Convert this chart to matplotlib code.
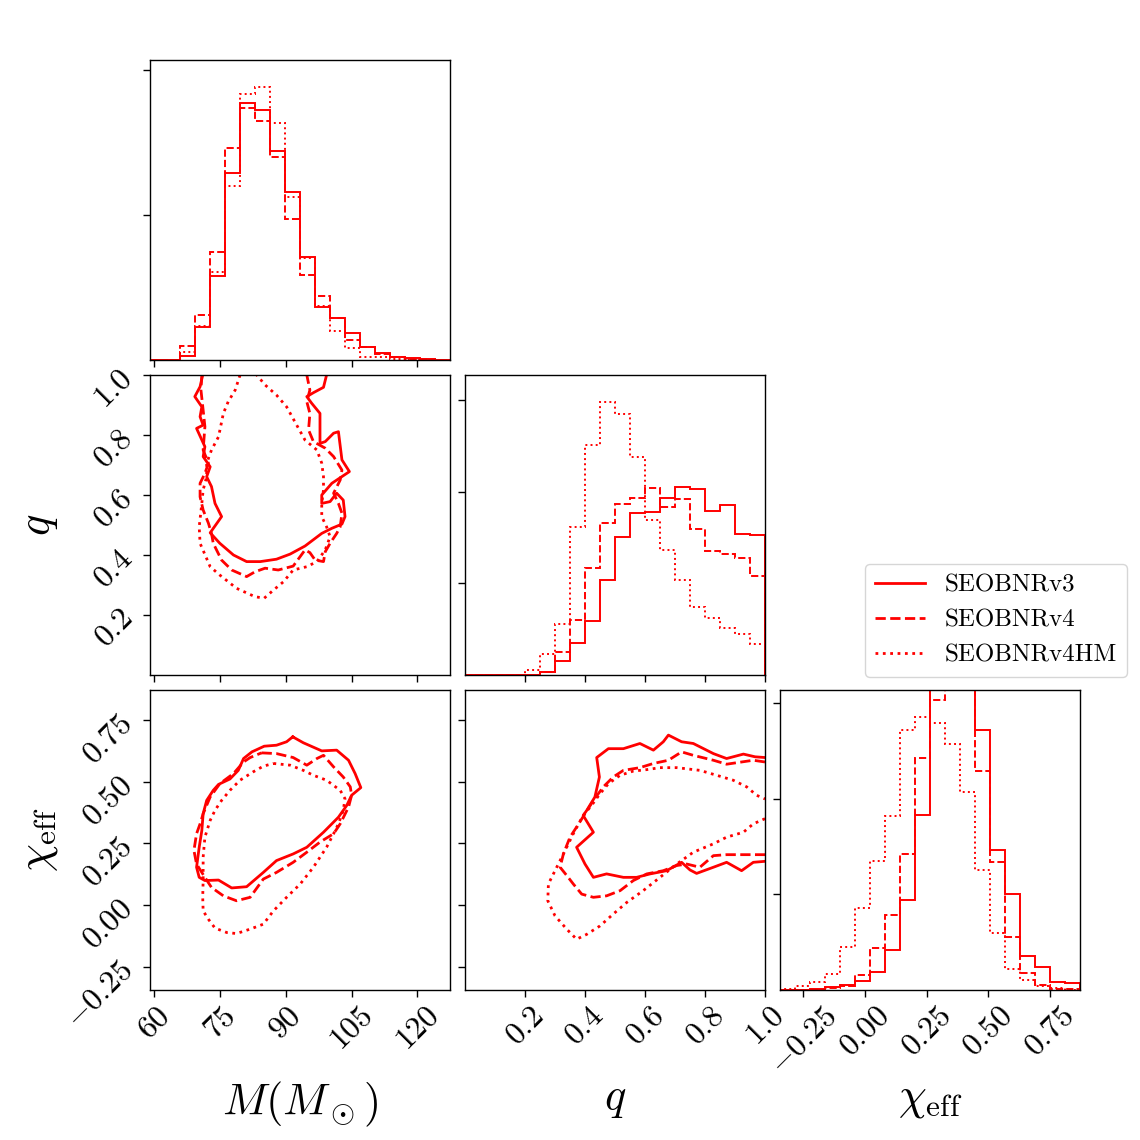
import numpy as np
import matplotlib
matplotlib.use("Agg")
import matplotlib.pyplot as plt
from matplotlib.lines import Line2D

plt.rcParams['mathtext.fontset'] = 'cm'
plt.rcParams['font.family'] = 'serif'
plt.rcParams['font.serif'] = ['cmr10']
plt.rcParams['axes.formatter.use_mathtext'] = True

labels = ['SEOBNRv3', 'SEOBNRv4', 'SEOBNRv4HM']
styles = ['-', '--', ':']
color = 'red'

# axis ranges (20 bins across each range)
M_range = (59.1, 127.4)
q_range = (0.0, 1.0)
chi_range = (-0.345, 0.872)

M_ticks = [60, 75, 90, 105, 120]
q_ticks = [0.2, 0.4, 0.6, 0.8, 1.0]
chi_ticks = [-0.25, 0.0, 0.25, 0.5, 0.75]

# 1D histograms (arbitrary density units)
M_hist_v3 = [0.0, 0.0, 0.028, 0.23, 0.579, 1.292, 1.772, 1.726, 1.444, 1.161,
             0.708, 0.363, 0.290, 0.184, 0.092, 0.051, 0.023, 0.011, 0.009, 0.002]
M_hist_v4 = [0.0, 0.0, 0.099, 0.313, 0.747, 1.460, 1.736, 1.648, 1.398, 0.970,
             0.586, 0.441, 0.290, 0.138, 0.087, 0.041, 0.018, 0.007, 0.005, 0.002]
M_hist_v4hm = [0.0, 0.0, 0.053, 0.237, 0.605, 1.202, 1.834, 1.880, 1.634, 1.122,
               0.703, 0.375, 0.198, 0.080, 0.023, 0.018, 0.007, 0.003, 0.003, 0.002]

q_hist_v3 = [0.0, 0.0, 0.0, 0.0, 0.004, 0.036, 0.156, 0.345, 0.593, 1.04,
             1.502, 1.767, 1.782, 1.935, 2.051, 2.033, 1.793, 1.851, 1.542, 1.524]
q_hist_v4 = [0.0, 0.0, 0.0, 0.0, 0.004, 0.029, 0.255, 0.60, 1.171, 1.655,
             1.865, 1.927, 2.04, 1.829, 1.92, 1.596, 1.353, 1.32, 1.273, 1.084]
q_hist_v4hm = [0.0, 0.0, 0.0, 0.004, 0.055, 0.229, 0.556, 1.611, 2.513, 2.975,
               2.847, 2.382, 1.695, 1.364, 1.036, 0.745, 0.618, 0.513, 0.447, 0.338]

chi_hist_v3 = [0.0, 0.003, 0.01, 0.028, 0.056, 0.091, 0.192, 0.418, 0.944, 1.833,
               3.35, 3.5, 3.4, 2.721, 1.467, 1.003, 0.355, 0.244, 0.087, 0.073]
chi_hist_v4 = [0.0, 0.0, 0.003, 0.02, 0.045, 0.157, 0.436, 0.784, 1.422, 2.425,
               3.03, 3.3, 3.25, 2.293, 1.334, 0.551, 0.181, 0.056, 0.01, 0.01]
chi_hist_v4hm = [0.01, 0.045, 0.087, 0.167, 0.446, 0.854, 1.352, 1.822, 2.718, 2.85,
                 2.787, 2.571, 2.073, 1.254, 0.592, 0.22, 0.105, 0.045, 0.02, 0.003]

# 90% credible contours
Mq_v3_M = [71.1, 70.5, 69.3, 70.9, 70.5, 71.2, 69.7, 71.6, 71.2, 72.8, 72.0, 73.1, 73.9, 75.4,
           72.8, 75.0, 78.1, 81.1, 84.2, 87.9, 91.0, 94.4, 98.2, 100.5, 102.8, 103.5, 103.1,
           101.6, 100.1, 98.2, 98.2, 100.5, 104.5, 102.8, 102.0, 100.9, 99.0, 97.8, 97.8,
           95.9, 94.8, 96.3, 98.6, 99.3]
Mq_v3_q = [1.0, 0.961, 0.928, 0.894, 0.861, 0.833, 0.822, 0.761, 0.728, 0.694, 0.661, 0.628,
           0.572, 0.528, 0.474, 0.439, 0.400, 0.378, 0.378, 0.386, 0.403, 0.430, 0.472, 0.489,
           0.503, 0.528, 0.583, 0.606, 0.578, 0.572, 0.600, 0.639, 0.678, 0.717, 0.811, 0.806,
           0.778, 0.772, 0.872, 0.906, 0.928, 0.941, 0.959, 1.0]

Mq_v4_M = [70.9, 70.7, 71.2, 71.6, 71.2, 72.4, 71.6, 70.5, 70.5, 71.2, 72.4, 73.1, 73.5, 75.4,
           77.7, 81.1, 83.0, 85.3, 88.3, 91.7, 94.4, 95.5, 96.7, 98.6, 99.0, 100.1, 101.6,
           102.4, 102.8, 102.0, 100.9, 102.4, 102.8, 100.9, 99.0, 96.3, 95.2, 95.5, 94.8,
           95.5, 94.8]
Mq_v4_q = [1.0, 0.95, 0.883, 0.828, 0.75, 0.706, 0.672, 0.639, 0.594, 0.55, 0.506, 0.472,
           0.439, 0.383, 0.35, 0.328, 0.344, 0.356, 0.35, 0.363, 0.417, 0.408, 0.383, 0.378,
           0.411, 0.439, 0.472, 0.494, 0.539, 0.572, 0.606, 0.65, 0.683, 0.728, 0.756, 0.778,
           0.817, 0.872, 0.911, 0.95, 1.0]

Mq_v4hm_M = [79.6, 78.5, 76.9, 75.8, 74.7, 73.1, 72.0, 72.0, 71.2, 70.9, 70.3, 70.5, 72.8,
             75.0, 78.8, 83.0, 85.1, 87.2, 89.5, 91.7, 94.8, 97.1, 99.0, 100.1, 99.3, 98.2,
             98.2, 98.6, 98.6, 98.2, 97.1, 94.4, 92.5, 90.2, 87.9, 85.3, 83.4]
Mq_v4hm_q = [1.0, 0.95, 0.911, 0.872, 0.794, 0.75, 0.706, 0.661, 0.617, 0.572, 0.494, 0.439,
             0.361, 0.333, 0.289, 0.261, 0.256, 0.283, 0.311, 0.35, 0.361, 0.378, 0.417, 0.461,
             0.494, 0.528, 0.572, 0.617, 0.661, 0.706, 0.75, 0.783, 0.833, 0.894, 0.933,
             0.967, 1.0]

Mchi_v3_M = [91.6, 94.0, 98.2, 101.6, 104.3, 105.8, 107.1, 105.0, 103.9, 102.0, 98.6, 94.8,
             91.7, 87.9, 84.9, 81.1, 77.7, 74.7, 71.6, 70.3, 69.7, 70.3, 70.9, 71.2, 72.0,
             73.5, 74.7, 77.3, 79.2, 80.4, 82.3, 85.1, 87.9, 90.2, 91.6]
Mchi_v3_chi = [0.682, 0.658, 0.625, 0.628, 0.587, 0.533, 0.476, 0.445, 0.404, 0.356, 0.295,
               0.234, 0.207, 0.180, 0.132, 0.074, 0.069, 0.101, 0.099, 0.112, 0.153, 0.234,
               0.302, 0.370, 0.424, 0.465, 0.489, 0.511, 0.546, 0.594, 0.621, 0.644, 0.648,
               0.662, 0.682]

Mchi_v4_M = [84.5, 87.9, 91.7, 94.8, 97.1, 98.6, 100.9, 103.1, 104.7, 105.0, 104.3, 102.4,
             100.9, 97.8, 94.8, 91.7, 87.9, 84.9, 81.9, 78.8, 75.8, 73.1, 71.6, 69.7, 69.1,
             69.7, 70.5, 71.2, 72.8, 75.0, 78.1, 80.4, 81.9, 84.5]
Mchi_v4_chi = [0.617, 0.614, 0.598, 0.567, 0.594, 0.607, 0.560, 0.519, 0.479, 0.445, 0.397,
               0.329, 0.289, 0.255, 0.214, 0.173, 0.132, 0.105, 0.031, 0.017, 0.037, 0.071,
               0.112, 0.166, 0.221, 0.289, 0.329, 0.370, 0.438, 0.492, 0.533, 0.580, 0.598,
               0.617]

Mchi_v4hm_M = [87.2, 91.0, 94.0, 96.3, 99.3, 102.4, 103.5, 103.1, 102.0, 100.9, 99.3, 96.3,
               93.3, 90.2, 87.2, 84.9, 81.9, 78.8, 76.6, 73.9, 72.4, 71.2, 71.1, 71.2, 71.2,
               71.6, 72.8, 73.9, 75.4, 77.3, 79.6, 82.6, 84.9, 87.2]
Mchi_v4hm_chi = [0.574, 0.567, 0.546, 0.526, 0.506, 0.465, 0.431, 0.384, 0.329, 0.289, 0.234,
                 0.153, 0.085, 0.031, -0.024, -0.078, -0.098, -0.116, -0.112, -0.094, -0.058,
                 -0.024, 0.031, 0.099, 0.194, 0.275, 0.343, 0.384, 0.424, 0.465, 0.506, 0.540,
                 0.563, 0.574]

qchi_v3_q = [1.0, 0.967, 0.928, 0.872, 0.828, 0.761, 0.722, 0.678, 0.661, 0.628, 0.583, 0.528,
             0.478, 0.439, 0.448, 0.433, 0.406, 0.394, 0.428, 0.372, 0.400, 0.428, 0.472,
             0.528, 0.572, 0.617, 0.672, 0.722, 0.75, 0.772, 0.828, 0.872, 0.922, 0.961, 1.0]
qchi_v3_chi = [0.598, 0.601, 0.612, 0.594, 0.614, 0.655, 0.662, 0.689, 0.662, 0.628, 0.655,
               0.634, 0.634, 0.598, 0.519, 0.438, 0.384, 0.363, 0.295, 0.234, 0.166, 0.112,
               0.126, 0.112, 0.112, 0.126, 0.139, 0.173, 0.142, 0.128, 0.153, 0.173, 0.139,
               0.173, 0.177]

qchi_v4_q = [1.0, 0.961, 0.872, 0.828, 0.761, 0.722, 0.678, 0.628, 0.583, 0.528, 0.494, 0.461,
             0.428, 0.4, 0.372, 0.35, 0.328, 0.317, 0.344, 0.361, 0.389, 0.428, 0.472, 0.517,
             0.561, 0.606, 0.661, 0.706, 0.739, 0.783, 0.828, 0.872, 0.928, 1.0]
qchi_v4_chi = [0.580, 0.587, 0.571, 0.587, 0.607, 0.621, 0.587, 0.574, 0.557, 0.546, 0.519,
               0.479, 0.424, 0.370, 0.316, 0.275, 0.207, 0.153, 0.112, 0.085, 0.044, 0.031,
               0.037, 0.058, 0.099, 0.126, 0.139, 0.160, 0.166, 0.153, 0.200, 0.204, 0.204,
               0.204]

qchi_v4hm_q = [1.0, 0.961, 0.928, 0.872, 0.828, 0.761, 0.706, 0.65, 0.594, 0.539, 0.494,
               0.45, 0.406, 0.372, 0.339, 0.3, 0.276, 0.278, 0.3, 0.328, 0.361, 0.394, 0.422,
               0.45, 0.478, 0.517, 0.561, 0.606, 0.65, 0.706, 0.783, 0.839, 0.894, 0.939,
               0.972, 1.0]
qchi_v4hm_chi = [0.350, 0.329, 0.295, 0.275, 0.248, 0.214, 0.166, 0.112, 0.058, 0.010,
                 -0.037, -0.085, -0.119, -0.139, -0.098, -0.044, 0.017, 0.085, 0.139, 0.207,
                 0.289, 0.363, 0.404, 0.451, 0.492, 0.526, 0.543, 0.549, 0.557, 0.557, 0.546,
                 0.526, 0.506, 0.479, 0.445, 0.43]


fig, axes = plt.subplots(3, 3, figsize=(11.4, 11.4), dpi=100)
fig.subplots_adjust(left=150/1140, right=1080/1140, bottom=1-990/1140, top=1-60/1140,
                    wspace=0.05, hspace=0.05)

for ax in [axes[0, 1], axes[0, 2], axes[1, 2]]:
    ax.set_axis_off()

ranges = [M_range, q_range, chi_range]
ticks = [M_ticks, q_ticks, chi_ticks]
hists = [[M_hist_v3, M_hist_v4, M_hist_v4hm],
         [q_hist_v3, q_hist_v4, q_hist_v4hm],
         [chi_hist_v3, chi_hist_v4, chi_hist_v4hm]]
hist_ticks = [[1, 2], [1, 2, 3], [1, 2, 3]]

for i in range(3):
    ax = axes[i, i]
    edges = np.linspace(ranges[i][0], ranges[i][1], 21)
    for h, ls in zip(hists[i], styles):
        ax.stairs(h, edges, color=color, ls=ls, lw=1.4, baseline=0)
    ax.set_xlim(ranges[i])
    ax.set_ylim(0, 1.1 * max(hists[i][2]))
    ax.set_yticks(hist_ticks[i])
    ax.set_yticklabels([])

contours = {
    (1, 0): [(Mq_v3_M, Mq_v3_q), (Mq_v4_M, Mq_v4_q), (Mq_v4hm_M, Mq_v4hm_q)],
    (2, 0): [(Mchi_v3_M, Mchi_v3_chi), (Mchi_v4_M, Mchi_v4_chi), (Mchi_v4hm_M, Mchi_v4hm_chi)],
    (2, 1): [(qchi_v3_q, qchi_v3_chi), (qchi_v4_q, qchi_v4_chi), (qchi_v4hm_q, qchi_v4hm_chi)],
}
for (r, c), lines in contours.items():
    ax = axes[r, c]
    for (x, y), ls in zip(lines, styles):
        ax.plot(x, y, color=color, ls=ls, lw=2.0)
    ax.set_xlim(ranges[c])
    ax.set_ylim(ranges[r])
    ax.set_yticks(ticks[r])

for r in range(3):
    for c in range(r + 1):
        ax = axes[r, c]
        ax.set_xticks(ticks[c])
        ax.tick_params(direction='out', length=5, width=1, labelsize=23)
        for s in ax.spines.values():
            s.set_linewidth(1.0)
        if r < 2:
            ax.set_xticklabels([])
        else:
            for lab in ax.get_xticklabels():
                lab.set_rotation(45)
        if c > 0 or r == 0:
            ax.set_yticklabels([])
        else:
            for lab in ax.get_yticklabels():
                lab.set_rotation(45)

names = [r'$M(M_\odot)$', r'$q$', r'$\chi_{\rm eff}$']
for c in range(3):
    axes[2, c].set_xlabel(names[c], fontsize=32)
    axes[2, c].xaxis.set_label_coords(0.5, -0.3)
for r in [1, 2]:
    axes[r, 0].set_ylabel(names[r], fontsize=32)
    axes[r, 0].yaxis.set_label_coords(-0.3, 0.5)

handles = [Line2D([], [], color=color, ls=ls, lw=2.0) for ls in styles]
fig.legend(handles, labels, loc='upper right', bbox_to_anchor=(1127/1140, 1-564/1140),
           borderaxespad=0, fontsize=18)

fig.savefig('out.png', dpi=100)
